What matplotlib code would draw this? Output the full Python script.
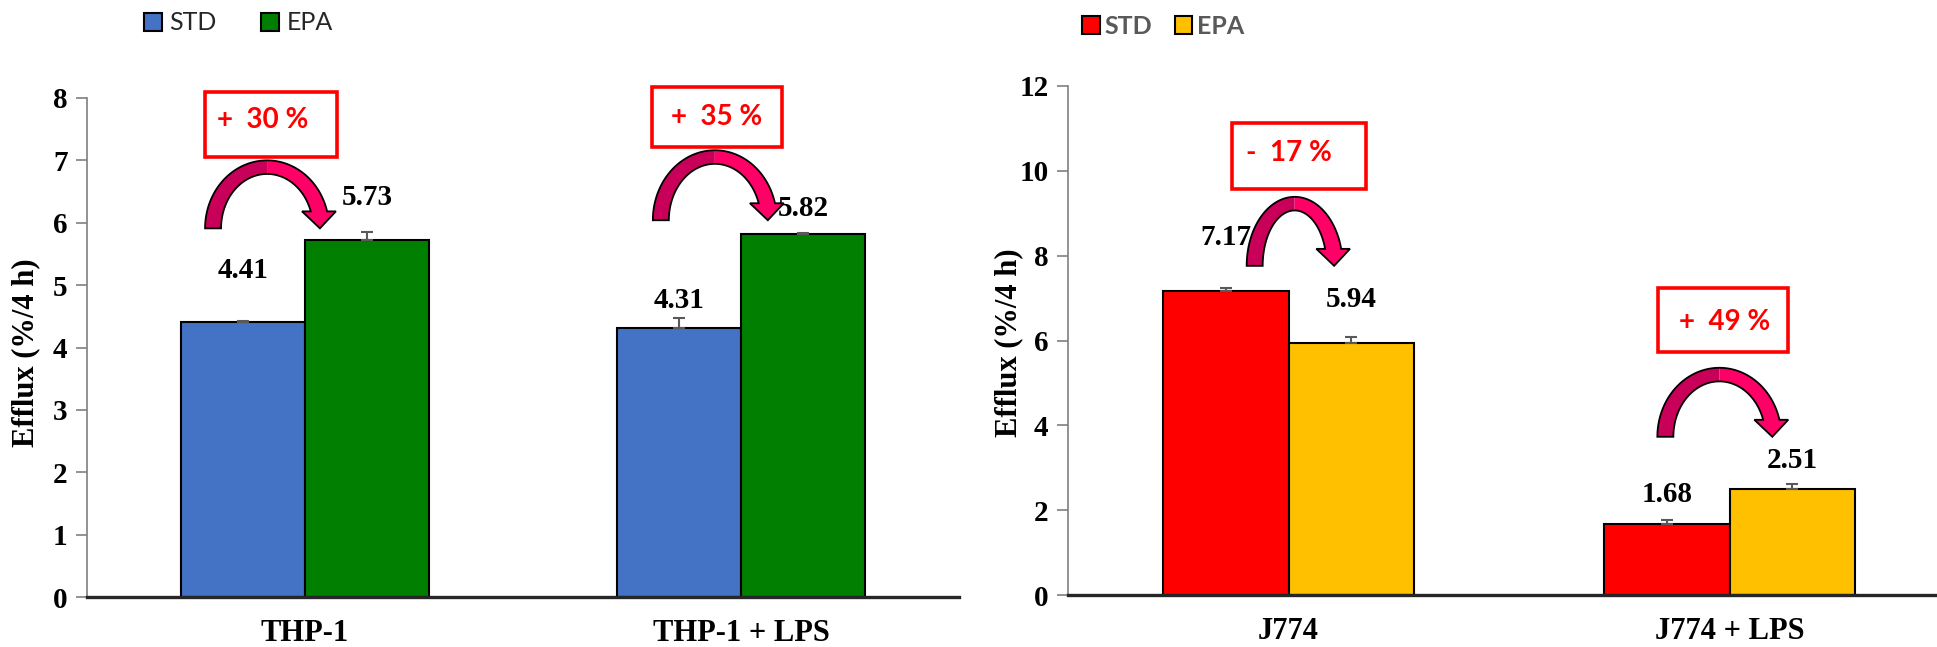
import numpy as np
import matplotlib
matplotlib.use('Agg')
import matplotlib.pyplot as plt
import matplotlib.transforms as mtransforms
from matplotlib.patches import Polygon, Rectangle

# left panel: THP-1 macrophages
thp_groups = ['THP-1', 'THP-1 + LPS']
thp_std = [4.41, 4.31]
thp_epa = [5.73, 5.82]
thp_std_err = [0.02, 0.17]
thp_epa_err = [0.12, 0.02]
thp_change = ['+  30 %', '+  35 %']

# right panel: J774 macrophages
j774_groups = ['J774', 'J774 + LPS']
j774_std = [7.17, 1.68]
j774_epa = [5.94, 2.51]
j774_std_err = [0.07, 0.08]
j774_epa_err = [0.15, 0.10]
j774_change = ['-  17 %', '+  49 %']

serif = 'Liberation Serif'
sans = 'Lato'

fig = plt.figure(figsize=(19.37, 6.47), dpi=100)
ax1 = fig.add_axes([87/1937, 50/647, 872/1937, 499/647])
ax2 = fig.add_axes([1068/1937, 52/647, 882/1937, 509/647])


def curved_arrow(ax, x, y, rx, ry, t=16, h=17):
    # shape in pixels, anchored at data point (x, y) = arc centre on the feet line
    tr = (mtransforms.Affine2D().scale(1 / 100.) + fig.dpi_scale_trans
          + mtransforms.ScaledTranslation(x, y, ax.transData))
    rxi, ryi = rx - t, ry - t * 0.85
    to = np.arcsin(h / ry)
    ti = np.arcsin(h / ryi)
    a1 = np.linspace(np.pi, np.pi / 2, 40)
    a2 = np.linspace(np.pi / 2, to, 40)
    a2i = np.linspace(ti, np.pi / 2, 40)
    outer_l = np.c_[rx * np.cos(a1), ry * np.sin(a1)]
    inner_l = np.c_[rxi * np.cos(a1[::-1]), ryi * np.sin(a1[::-1])]
    outer_r = np.c_[rx * np.cos(a2), ry * np.sin(a2)]
    inner_r = np.c_[rxi * np.cos(a2i), ryi * np.sin(a2i)]
    ox, ix = rx * np.cos(to), rxi * np.cos(ti)
    ext = 0.55 * t
    head = np.array([[ox + ext, h], [(ox + ix) / 2 + 1, 0], [ix - ext, h]])
    left = np.vstack([outer_l, inner_l])
    right = np.vstack([outer_r, head, inner_r])
    whole = np.vstack([outer_l, outer_r, head, inner_r, inner_l])
    ax.add_patch(Polygon(left, closed=True, fc='#C8005A', ec='none', transform=tr, clip_on=False, zorder=5))
    ax.add_patch(Polygon(right, closed=True, fc='#FF0066', ec='none', transform=tr, clip_on=False, zorder=5))
    ax.add_patch(Polygon(whole, closed=True, fill=False, ec='black', lw=1.3, transform=tr, clip_on=False, zorder=6))


def panel(ax, groups, std, epa, std_err, epa_err, changes, colors, ymax, ystep,
          std_lab_y, epa_lab_y, boxes, texts, arrows):
    x = np.arange(len(groups))
    w = 0.285
    ekw = dict(ecolor='#595959', capsize=4, elinewidth=1.5, capthick=1.5)
    b1 = ax.bar(x - w / 2, std, w, color=colors[0], edgecolor='black', linewidth=1.5,
                yerr=[[0] * len(std), std_err], error_kw=ekw)
    b2 = ax.bar(x + w / 2, epa, w, color=colors[1], edgecolor='black', linewidth=1.5,
                yerr=[[0] * len(epa), epa_err], error_kw=ekw)
    for i in range(len(groups)):
        ax.text(x[i] - w / 2, std_lab_y[i], '%.2f' % std[i], ha='center', va='center',
                family=serif, weight='bold', fontsize=21)
        ax.text(x[i] + w / 2, epa_lab_y[i], '%.2f' % epa[i], ha='center', va='center',
                family=serif, weight='bold', fontsize=21)
        (x0, y0, x1, y1), (tx, ty), (ax_, ay, rx, ry) = boxes[i], texts[i], arrows[i]
        ax.add_patch(Rectangle((x0, y0), x1 - x0, y1 - y0, fc='white', ec='#FF0000', lw=2.6,
                               clip_on=False, zorder=4))
        ax.text(tx, ty, changes[i], color='#FF0000', ha='center', va='center',
                family=sans, weight='bold', fontsize=20, zorder=7)
        curved_arrow(ax, ax_, ay, rx, ry)
    ax.set_xlim(-0.5, 1.5)
    ax.set_ylim(0, ymax)
    ax.set_yticks(np.arange(0, ymax + 0.1, ystep))
    ax.set_xticks(x)
    ax.set_xticklabels(groups, family=serif, weight='bold', fontsize=22)
    for lab in ax.get_yticklabels():
        lab.set_family(serif)
        lab.set_weight('bold')
        lab.set_fontsize(21)
    ax.tick_params(axis='x', length=0, pad=16)
    ax.tick_params(axis='y', length=8, width=1.2, color='#7f7f7f', pad=6)
    ax.spines['top'].set_visible(False)
    ax.spines['right'].set_visible(False)
    ax.spines['left'].set_color('#7f7f7f')
    ax.spines['left'].set_linewidth(1.2)
    ax.spines['bottom'].set_color('#262626')
    ax.spines['bottom'].set_linewidth(2.4)
    ax.set_ylabel('Efflux (%/4 h)', family=serif, weight='bold', fontsize=22)
    return b1, b2


h1 = panel(ax1, thp_groups, thp_std, thp_epa, thp_std_err, thp_epa_err, thp_change,
           ['#4472C4', '#007F00'], 8, 1,
           [5.24, 4.76], [6.41, 6.23],
           [(-0.229, 7.05, 0.073, 8.09), (0.796, 7.21, 1.094, 8.17)],
           [(-0.096, 7.64), (0.943, 7.69)],
           [(-0.087, 5.91, 62, 68), (0.940, 6.04, 62, 70)])
ax1.yaxis.set_label_coords(-0.054, 0.489)

h2 = panel(ax2, j774_groups, j774_std, j774_epa, j774_std_err, j774_epa_err, j774_change,
           ['#FF0000', '#FFC000'], 12, 2,
           [8.44, 2.36], [6.96, 3.18],
           [(-0.127, 9.58, 0.175, 11.13), (0.837, 5.73, 1.132, 7.24)],
           [(0.0, 10.42), (0.989, 6.44)],
           [(0.014, 7.76, 48, 69), (0.977, 3.73, 62, 69)])
ax2.yaxis.set_label_coords(-0.051, 0.495)

fig.legend(handles=list(h1), labels=['STD', 'EPA'], loc='center left',
           bbox_to_anchor=(144 / 1937, 1 - 23 / 647), ncol=2, frameon=False,
           borderpad=0, borderaxespad=0, handlelength=0.7, handleheight=0.7,
           handletextpad=0.3, columnspacing=1.8, labelcolor='#262626',
           prop=dict(family=sans, size=18))
fig.legend(handles=list(h2), labels=['STD', 'EPA'], loc='center left',
           bbox_to_anchor=(1082 / 1937, 1 - 26 / 647), ncol=2, frameon=False,
           borderpad=0, borderaxespad=0, handlelength=0.7, handleheight=0.7,
           handletextpad=0.2, columnspacing=0.9, labelcolor='#595959',
           prop=dict(family=sans, size=18, weight='bold'))

fig.savefig('out.png', dpi=100)
